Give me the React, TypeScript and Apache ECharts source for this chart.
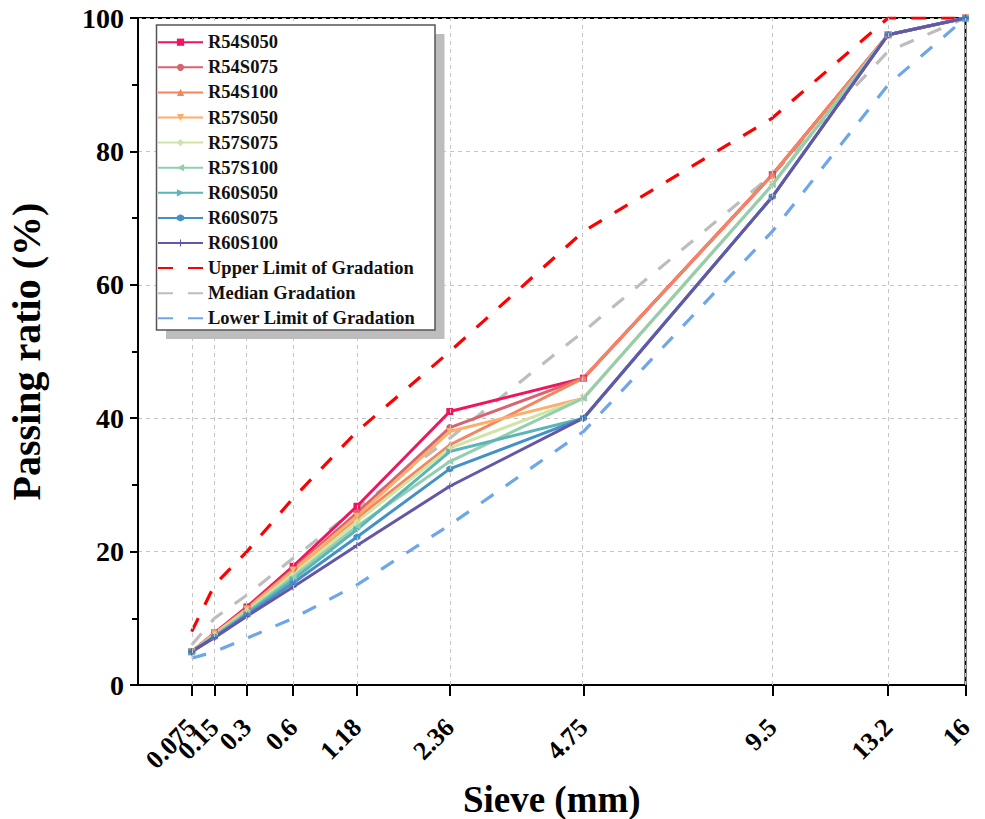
import React, { useEffect, useRef } from "react";
import * as echarts from "echarts";

// Sieve sizes (mm) and their tick labels
const SIEVES = [0.075, 0.15, 0.3, 0.6, 1.18, 2.36, 4.75, 9.5, 13.2, 16];
const SIEVE_LABELS = ["0.075", "0.15", "0.3", "0.6", "1.18", "2.36", "4.75", "9.5", "13.2", "16"];

// Passing ratio (%) for each mix
const R54S050 = [5.0, 7.8, 11.7, 17.8, 26.8, 41.0, 46.0, 76.5, 97.5, 100];
const R54S075 = [5.0, 7.7, 11.5, 17.4, 25.8, 38.6, 46.0, 76.5, 97.5, 100];
const R54S100 = [5.0, 7.6, 11.3, 17.0, 25.0, 36.0, 46.0, 76.5, 97.5, 100];
const R57S050 = [5.0, 7.7, 11.4, 17.2, 25.3, 38.0, 43.0, 75.0, 97.5, 100];
const R57S075 = [5.0, 7.5, 11.1, 16.6, 24.5, 35.5, 43.0, 75.0, 97.5, 100];
const R57S100 = [5.0, 7.4, 10.9, 16.2, 23.8, 33.5, 43.0, 75.0, 97.5, 100];
const R60S050 = [5.0, 7.3, 10.7, 15.8, 23.3, 35.0, 40.0, 73.2, 97.5, 100];
const R60S075 = [5.0, 7.2, 10.5, 15.3, 22.2, 32.4, 40.0, 73.2, 97.5, 100];
const R60S100 = [5.0, 7.1, 10.3, 14.7, 20.9, 29.8, 40.0, 73.2, 97.5, 100];

// Gradation envelope
const UPPER = [8, 15, 20, 28, 38, 50, 68, 85, 100, 100];
const MEDIAN = [6, 10, 13.5, 19, 26.5, 37, 53, 76.5, 95, 100];
const LOWER = [4, 5, 7, 10, 15, 24, 38, 68, 90, 100];

const Y_TICKS = [0, 20, 40, 60, 80, 100];

// power-scale transform for the sieve axis
const P = 0.51;
const tx = (s: number) => Math.pow(s, P);

const FONT = "'Liberation Serif', 'Times New Roman', serif";

const HEX = "path://M0,-10 L8.66,-5 L8.66,5 L0,10 L-8.66,5 L-8.66,-5 Z";
const PLUS = "path://M-1.5,-10 L1.5,-10 L1.5,-1.5 L10,-1.5 L10,1.5 L1.5,1.5 L1.5,10 L-1.5,10 L-1.5,1.5 L-10,1.5 L-10,-1.5 L-1.5,-1.5 Z";

const MIXES = [
  { name: "R54S050", data: R54S050, color: "#F0155C", symbol: "rect", rot: 0 },
  { name: "R54S075", data: R54S075, color: "#D9636F", symbol: "circle", rot: 0 },
  { name: "R54S100", data: R54S100, color: "#F5845F", symbol: "triangle", rot: 0 },
  { name: "R57S050", data: R57S050, color: "#FDAE6B", symbol: "triangle", rot: 180 },
  { name: "R57S075", data: R57S075, color: "#D0E4A6", symbol: "diamond", rot: 0 },
  { name: "R57S100", data: R57S100, color: "#92CFAF", symbol: "triangle", rot: 90 },
  { name: "R60S050", data: R60S050, color: "#5BB4B6", symbol: "triangle", rot: -90 },
  { name: "R60S075", data: R60S075, color: "#4690C8", symbol: HEX, rot: 0 },
  { name: "R60S100", data: R60S100, color: "#6656A8", symbol: PLUS, rot: 0 },
];

const LIMITS = [
  { name: "Upper Limit of Gradation", data: UPPER, color: "#FF0000" },
  { name: "Median Gradation", data: MEDIAN, color: "#BDBDBD" },
  { name: "Lower Limit of Gradation", data: LOWER, color: "#6EA6EA" },
];

const toPairs = (vals: number[]) => SIEVES.map((s, i) => [tx(s), vals[i]]);

export default function App() {
  const ref = useRef<HTMLDivElement>(null);
  useEffect(() => {
    if (!ref.current) return;
    const chart = echarts.init(ref.current, undefined, { renderer: "svg" });
    const gridColor = "#c4c4c4";
    const tickVals = SIEVES.map(tx);
    const option: any = {
      animation: false,
      backgroundColor: "#ffffff",
      grid: {
        left: 138,
        right: 19.5,
        top: 18,
        bottom: 134,
        show: true,
        borderColor: "#000",
        borderWidth: 2,
        containLabel: false,
        outerBoundsMode: "none",
      },
      xAxis: {
        type: "value",
        min: 0,
        max: tx(16),
        name: "Sieve (mm)",
        nameLocation: "middle",
        nameGap: 92,
        nameTextStyle: { fontFamily: FONT, fontWeight: "bold", fontSize: 37, lineHeight: 36, color: "#000" },
        axisLine: { show: true, lineStyle: { color: "#000", width: 2 } },
        axisTick: {
          show: true,
          length: 11,
          interval: 0,
          lineStyle: { color: "#000", width: 2 },
          customValues: tickVals,
        },
        axisLabel: {
          show: true,
          rotate: 45,
          margin: 38,
          interval: 0,
          fontFamily: FONT,
          fontWeight: "bold",
          fontSize: 26,
          color: "#000",
          customValues: [0, ...tickVals],
          hideOverlap: false,
          formatter: (v: number) => {
            const i = SIEVES.findIndex((s) => Math.abs(tx(s) - v) < 1e-6);
            return i >= 0 ? SIEVE_LABELS[i] : "";
          },
        },
        splitLine: { show: false },
      },
      yAxis: {
        type: "value",
        min: Y_TICKS[0],
        max: Y_TICKS[Y_TICKS.length - 1],
        interval: 20,
        name: "Passing ratio (%)",
        nameLocation: "middle",
        nameGap: 92,
        nameTextStyle: { fontFamily: FONT, fontWeight: "bold", fontSize: 40, color: "#000" },
        axisLine: { show: true, lineStyle: { color: "#000", width: 2 } },
        axisTick: { show: true, length: 8, lineStyle: { color: "#000", width: 2 } },
        minorTick: { show: true, splitNumber: 2, length: 6, lineStyle: { color: "#000", width: 2 } },
        axisLabel: {
          margin: 14,
          fontFamily: FONT,
          fontWeight: "bold",
          fontSize: 28,
          color: "#000",
        },
        splitLine: { show: true, lineStyle: { color: gridColor, type: [4, 4], width: 1 } },
      },
      legend: {
        show: true,
        left: 157,
        top: 32.7,
        padding: 0,
        orient: "vertical",
        itemWidth: 45,
        itemHeight: 9,
        itemGap: 6.1,
        z: 100,
        data: [
          ...MIXES.map((m) => m.name),
          ...LIMITS.map((l) => ({ name: l.name, itemStyle: { opacity: 0 } })),
        ],
        textStyle: { fontFamily: FONT, fontWeight: "bold", fontSize: 18.5, color: "#111", lineHeight: 18 },
      },
      graphic: {
        elements: [
          {
            type: "rect",
            z: 50,
            shape: { x: 166, y: 34, width: 278.5, height: 305 },
            style: { fill: "#bdbdbd" },
          },
          {
            type: "rect",
            z: 51,
            shape: { x: 156.5, y: 25, width: 278.5, height: 305 },
            style: { fill: "#ffffff", stroke: "#555", lineWidth: 1.5 },
          },
        ],
      },
      series: [
        {
          type: "line",
          name: "_vgrid",
          data: [],
          silent: true,
          z: 1,
          markLine: {
            silent: true,
            symbol: ["none", "none"],
            label: { show: false },
            lineStyle: { color: gridColor, type: [4, 4], width: 1 },
            data: SIEVES.map((s) => ({ xAxis: tx(s) })),
          },
        },
        ...LIMITS.map((l) => ({
          type: "line",
          name: l.name,
          data: toPairs(l.data),
          symbol: "none",
          z: 2,
          color: l.color,
          lineStyle: { color: l.color, width: 3.2, type: [15, 15] },
          itemStyle: { color: l.color },
        })),
        ...MIXES.map((m) => ({
          type: "line",
          name: m.name,
          data: toPairs(m.data),
          symbol: m.symbol,
          symbolRotate: m.rot,
          symbolSize: 7,
          z: 3,
          color: m.color,
          lineStyle: { color: m.color, width: 3 },
          itemStyle: { color: m.color },
        })),
      ],
    };
    chart.setOption(option);
    return () => chart.dispose();
  }, []);
  return (
    <div
      ref={ref}
      style={{ position: "fixed", left: 0, top: 0, width: 985, height: 819, background: "#fff" }}
    />
  );
}
